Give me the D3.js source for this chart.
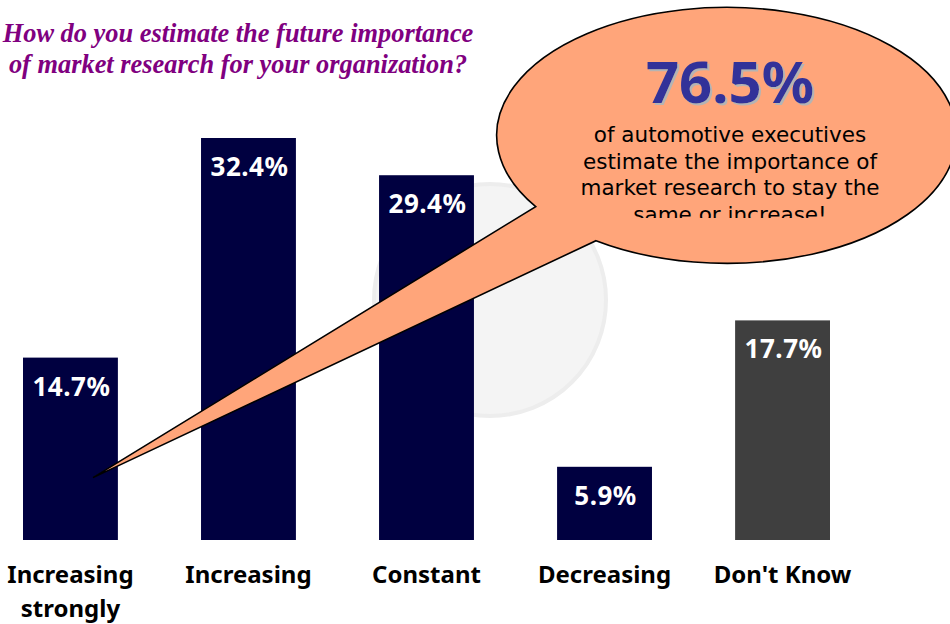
<!DOCTYPE html>
<html>
<head>
<meta charset="utf-8">
<script src="https://cdn.jsdelivr.net/npm/d3@7"></script>
<style>
  html, body { margin: 0; padding: 0; background: #ffffff; }
  svg { display: block; }
</style>
</head>
<body>
<svg id="chart" width="950" height="624"></svg>
<script>
// ---- data ----
const categories = ["Increasing strongly", "Increasing", "Constant", "Decreasing", "Don't Know"];
const categoryLines = [["Increasing", "strongly"], ["Increasing"], ["Constant"], ["Decreasing"], ["Don't Know"]];
const values = [14.7, 32.4, 29.4, 5.9, 17.7];
const barColors = ["#000040", "#000040", "#000040", "#000040", "#3f3f3f"];
const titleLines = ["How do you estimate the future importance", "of market research for your organization?"];
const calloutLines = ["of automotive executives", "estimate the importance of", "market research to stay the", "same or increase!"];

const svg = d3.select("#chart");

const defs = svg.append("defs");
const f = defs.append("filter").attr("id", "shadow")
  .attr("x", "-10%").attr("y", "-10%").attr("width", "130%").attr("height", "130%");
f.append("feDropShadow").attr("dx", 2).attr("dy", 2).attr("stdDeviation", 0)
  .attr("flood-color", "#b4b4b4").attr("flood-opacity", 1);
defs.append("clipPath").attr("id", "calloutClip")
  .append("rect").attr("x", 500).attr("y", 110).attr("width", 450).attr("height", 108);

const x = d3.scaleBand().domain(categories).range([23, 830]).paddingInner(0.467).paddingOuter(0);
const y = d3.scaleLinear().domain([0, d3.max(values)]).range([540, 138]);

// faint background circle
svg.append("circle")
  .attr("cx", 490).attr("cy", 300).attr("r", 116)
  .attr("fill", "#f4f4f4").attr("stroke", "#ededed").attr("stroke-width", 4);

// title
svg.append("g").selectAll("text").data(titleLines).join("text")
  .attr("x", 238).attr("y", (d, i) => 42 + i * 31)
  .attr("text-anchor", "middle")
  .attr("font-family", "'Liberation Serif', 'Times New Roman', serif")
  .attr("font-style", "italic").attr("font-weight", "bold")
  .attr("font-size", 26.4).attr("fill", "#800080")
  .text(d => d);

// bars
const data = categories.map((c, i) => ({ c, v: values[i], color: barColors[i], lines: categoryLines[i] }));
svg.append("g").selectAll("rect").data(data).join("rect")
  .attr("x", d => x(d.c)).attr("width", x.bandwidth())
  .attr("y", d => y(d.v)).attr("height", d => y(0) - y(d.v))
  .attr("fill", d => d.color);

// value labels
svg.append("g").selectAll("text").data(data).join("text")
  .attr("x", d => x(d.c) + x.bandwidth() / 2 + 1)
  .attr("y", d => y(d.v) + 38)
  .attr("text-anchor", "middle")
  .attr("font-family", "'Noto Sans', sans-serif").attr("font-weight", "bold")
  .attr("font-size", 26).attr("letter-spacing", 0.5).attr("fill", "#ffffff")
  .text(d => d.v.toFixed(1) + "%");

// category labels
const cat = svg.append("g").selectAll("text").data(data).join("text")
  .attr("text-anchor", "middle")
  .attr("font-family", "'Noto Sans', sans-serif").attr("font-weight", "bold")
  .attr("font-size", 24).attr("fill", "#000000");
cat.selectAll("tspan").data(d => d.lines.map(l => ({ l, d }))).join("tspan")
  .attr("x", t => x(t.d.c) + x.bandwidth() / 2)
  .attr("y", (t, i) => 583 + i * 34)
  .text(t => t.l);

// callout bubble
const cx = 730, cy = 135, rx = 230, ry = 128;
const A = [535.7, 206.7], B = [596, 240.7];
const firstBar = data[0];
const tip = [x(firstBar.c) + 70, y(firstBar.v) + 120];
const path = `M${A[0]},${A[1]} A${rx},${ry} 0 1 1 ${B[0]},${B[1]} L${tip[0]},${tip[1]} Z`;
svg.append("path").attr("d", path)
  .attr("fill", "#ffa57a").attr("stroke", "#000000").attr("stroke-width", 1.6)
  .attr("stroke-linejoin", "miter");

const total = d3.sum(values.slice(0, 3));
const bigText = total.toFixed(1) + "%";
svg.append("text").attr("x", cx).attr("y", 103)
  .attr("text-anchor", "middle")
  .attr("font-family", "'Noto Sans', sans-serif").attr("font-weight", "bold")
  .attr("font-size", 58).attr("fill", "#333399")
  .attr("filter", "url(#shadow)")
  .text(bigText);

svg.append("g").attr("clip-path", "url(#calloutClip)")
  .append("text")
  .attr("text-anchor", "middle")
  .attr("font-family", "'DejaVu Sans', sans-serif")
  .attr("font-size", 21.5).attr("fill", "#000000")
  .selectAll("tspan").data(calloutLines).join("tspan")
  .attr("x", cx).attr("y", (d, i) => 142 + i * 26.5)
  .text(d => d);
</script>
</body>
</html>
